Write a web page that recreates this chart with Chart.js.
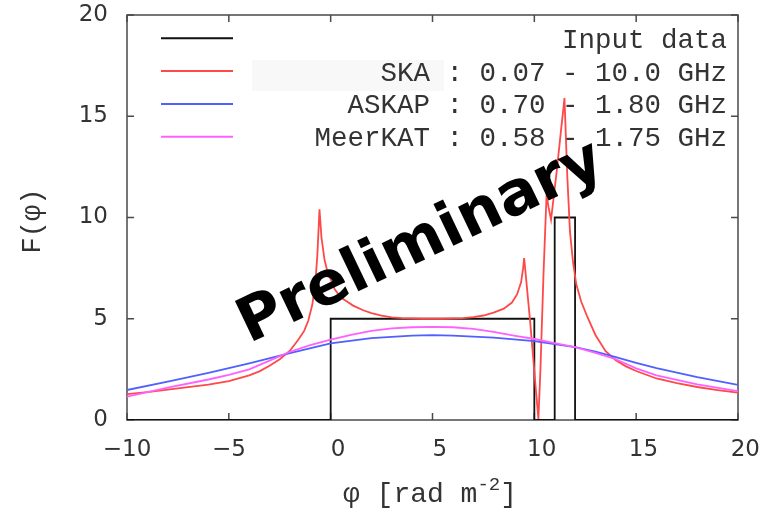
<!DOCTYPE html>
<html>
<head>
<meta charset="utf-8">
<script src="https://cdn.jsdelivr.net/npm/chart.js@4.4.1/dist/chart.umd.min.js"></script>
<style>
  html, body { margin: 0; padding: 0; background: #ffffff; }
  canvas { display: block; }
</style>
</head>
<body>
<canvas id="fdf" width="768" height="511"></canvas>
<script>
// Faraday dispersion function: input model and reconstructions per telescope band
const seriesNames = [
  'Input data',
  'SKA : 0.07 - 10.0 GHz',
  'ASKAP : 0.70 - 1.80 GHz',
  'MeerKAT : 0.58 - 1.75 GHz'
];
const seriesColors = ['#111111', '#ff4848', '#5060ff', '#ff60ff'];

// input model: two boxcar components
const inputPhi = [-10, 0, 0, 10, 10, 11, 11, 12, 12, 20];
const inputF   = [0, 0, 5, 5, 0, 0, 10, 10, 0, 0];

// SKA reconstruction
const skaPhi = [-10, -9, -8, -7, -6, -5, -4, -3.5, -3, -2.5, -2, -1.6, -1.3, -1.1, -0.9, -0.75, -0.65, -0.55,
  -0.45, -0.3, -0.15, 0, 0.2, 0.5, 0.8, 1.1, 1.6, 2, 2.5, 3, 3.5, 4.5, 5.5, 6.5, 7, 7.5, 8, 8.5, 8.9,
  9.15, 9.35, 9.45, 9.5, 9.65, 9.8, 9.95, 10.1, 10.2, 10.3, 10.45, 10.6, 10.7, 10.82, 10.95, 11.1, 11.3,
  11.48, 11.62, 11.75, 11.9, 12.06, 12.3, 12.6, 13, 13.5, 14, 14.5, 15, 16, 17, 18, 19, 20];
const skaF = [1.28, 1.38, 1.5, 1.62, 1.75, 1.92, 2.2, 2.4, 2.68, 3.0, 3.42, 3.95, 4.4, 4.9, 5.7, 6.8, 8.2, 10.4,
  9.0, 7.9, 7.3, 6.95, 6.45, 6.05, 5.85, 5.65, 5.42, 5.28, 5.15, 5.07, 5.03, 5.0, 5.0, 5.03, 5.08, 5.16, 5.3, 5.5, 5.8,
  6.2, 6.8, 7.5, 8.0, 6.4, 4.8, 3.0, 1.2, 0.05, 2.5, 7.2, 11.1, 10.5, 9.9, 11.0, 12.3, 14.2,
  15.9, 12.0, 9.3, 7.8, 6.7, 5.85, 5.1, 4.2, 3.4, 2.95, 2.65, 2.42, 2.05, 1.82, 1.63, 1.48, 1.35];

// ASKAP reconstruction
const askapPhi = [-10, -8, -6, -5, -4, -2, 0, 2, 4, 5, 6, 8, 10, 12, 13, 14, 15, 16, 18, 20];
const askapF   = [1.48, 1.9, 2.33, 2.56, 2.8, 3.3, 3.78, 4.04, 4.17, 4.19, 4.17, 4.07, 3.9, 3.6, 3.38, 3.1, 2.82, 2.56, 2.12, 1.73];

// MeerKAT reconstruction
const meerkatPhi = [-10, -8, -6, -5, -4, -3, -2, -1, 0, 1, 2, 3, 4, 5, 6, 7, 8, 9, 10, 11, 12, 13, 14, 15, 16, 18, 20];
const meerkatF   = [1.15, 1.6, 2.0, 2.23, 2.5, 2.93, 3.37, 3.7, 3.97, 4.2, 4.4, 4.52, 4.58, 4.6, 4.58, 4.5, 4.35, 4.17, 4.0, 3.8, 3.6, 3.32, 3.0, 2.55, 2.2, 1.76, 1.43];

const xTickValues = [-10, -5, 0, 5, 10, 15, 20];
const yTickValues = [0, 5, 10, 15, 20];
const xTitleParts = ['\u03c6 [rad m', '-2', ']'];
const yTitleText = 'F(\u03c6)';
const stampText = 'Preliminary';

const toPoints = (xs, ys) => xs.map((x, i) => ({ x: x, y: ys[i] }));
const seriesData = [
  toPoints(inputPhi, inputF),
  toPoints(skaPhi, skaF),
  toPoints(askapPhi, askapF),
  toPoints(meerkatPhi, meerkatF)
];

const FRAME = '#4a4a4a';
const TEXT = '#333333';
const MONO = '"Liberation Mono", "DejaVu Sans Mono", monospace';

// box frame with inward ticks on all four sides
const framePlugin = {
  id: 'frame',
  beforeDatasetsDraw(chart) {
    const { ctx, chartArea: a, scales } = chart;
    ctx.save();
    // light panel behind the first receiver entry
    ctx.fillStyle = '#f8f8f8';
    ctx.fillRect(252, 60, 192, 31);
    ctx.strokeStyle = FRAME;
    ctx.lineWidth = 1.5;
    ctx.strokeRect(a.left, a.top, a.right - a.left, a.bottom - a.top);
    const len = 7;
    ctx.beginPath();
    xTickValues.forEach(v => {
      const px = scales.x.getPixelForValue(v);
      ctx.moveTo(px, a.bottom); ctx.lineTo(px, a.bottom - len);
      ctx.moveTo(px, a.top); ctx.lineTo(px, a.top + len);
    });
    yTickValues.forEach(v => {
      const py = scales.y.getPixelForValue(v);
      ctx.moveTo(a.left, py); ctx.lineTo(a.left + len, py);
      ctx.moveTo(a.right, py); ctx.lineTo(a.right - len, py);
    });
    ctx.stroke();
    ctx.restore();
  },
  afterDraw(chart) {
    const { ctx } = chart;
    ctx.save();
    // key: samples on the left, labels right-aligned
    ctx.font = '27.5px ' + MONO;
    ctx.textAlign = 'right';
    ctx.textBaseline = 'middle';
    seriesNames.forEach((name, i) => {
      const ty = 41 + i * 32.6;
      const ly = 38.3 + i * 32.8;
      ctx.strokeStyle = seriesColors[i];
      ctx.lineWidth = 2;
      ctx.beginPath();
      ctx.moveTo(161, ly); ctx.lineTo(233, ly);
      ctx.stroke();
      ctx.fillStyle = TEXT;
      ctx.fillText(name, 727, ty);
    });

    // axis titles
    ctx.fillStyle = TEXT;
    ctx.save();
    ctx.translate(33, 221);
    ctx.rotate(-Math.PI / 2);
    ctx.font = '27px ' + MONO;
    ctx.textAlign = 'center';
    ctx.textBaseline = 'middle';
    ctx.fillText(yTitleText, 0, 0);
    ctx.restore();

    ctx.textAlign = 'left';
    ctx.textBaseline = 'alphabetic';
    const mainFont = '28px ' + MONO;
    const supFont = '19px ' + MONO;
    ctx.font = mainFont;
    const w0 = ctx.measureText(xTitleParts[0]).width;
    const w2 = ctx.measureText(xTitleParts[2]).width;
    ctx.font = supFont;
    const w1 = ctx.measureText(xTitleParts[1]).width;
    let tx = 430 - (w0 + w1 + w2) / 2;
    const base = 502;
    ctx.font = mainFont;
    ctx.fillText(xTitleParts[0], tx, base);
    tx += w0;
    ctx.font = supFont;
    ctx.fillText(xTitleParts[1], tx, base - 12);
    tx += w1;
    ctx.font = mainFont;
    ctx.fillText(xTitleParts[2], tx, base);

    // draft stamp
    ctx.translate(428, 258);
    ctx.rotate(-25.5 * Math.PI / 180);
    ctx.font = 'bold 61px "DejaVu Sans", sans-serif';
    ctx.textAlign = 'center';
    ctx.textBaseline = 'alphabetic';
    ctx.fillStyle = '#000000';
    ctx.fillText(stampText, 0, 0);
    ctx.restore();
  }
};

new Chart(document.getElementById('fdf'), {
  type: 'line',
  data: {
    datasets: seriesData.map((pts, i) => ({
      label: seriesNames[i],
      data: pts,
      borderColor: seriesColors[i],
      borderWidth: 1.8,
      pointRadius: 0,
      tension: 0,
      fill: false,
      order: 4 - i
    }))
  },
  options: {
    responsive: false,
    animation: false,
    devicePixelRatio: 1,
    layout: { padding: { top: 15, right: 30, left: 0, bottom: 0 } },
    plugins: { legend: { display: false }, tooltip: { enabled: false }, title: { display: false } },
    scales: {
      x: {
        type: 'linear',
        min: -10,
        max: 20,
        afterBuildTicks: s => { s.ticks = xTickValues.map(v => ({ value: v })); },
        afterFit: s => { s.height = 91; s.paddingLeft = 0; s.paddingRight = 0; },
        grid: { display: false, drawTicks: false },
        border: { display: false },
        ticks: {
          autoSkip: false,
          maxRotation: 0,
          padding: 16,
          color: TEXT,
          font: { family: 'DejaVu Sans', size: 23 },
          callback: v => (v < 0 ? '\u2212' + Math.abs(v) : '  ' + v)
        }
      },
      y: {
        type: 'linear',
        min: 0,
        max: 20,
        afterBuildTicks: s => { s.ticks = yTickValues.map(v => ({ value: v })); },
        afterFit: s => { s.width = 127; s.paddingTop = 0; s.paddingBottom = 0; },
        grid: { display: false, drawTicks: false },
        border: { display: false },
        ticks: {
          padding: 19,
          color: TEXT,
          font: { family: 'DejaVu Sans', size: 23 },
          callback: v => String(v)
        }
      }
    }
  },
  plugins: [framePlugin]
});
</script>
</body>
</html>
